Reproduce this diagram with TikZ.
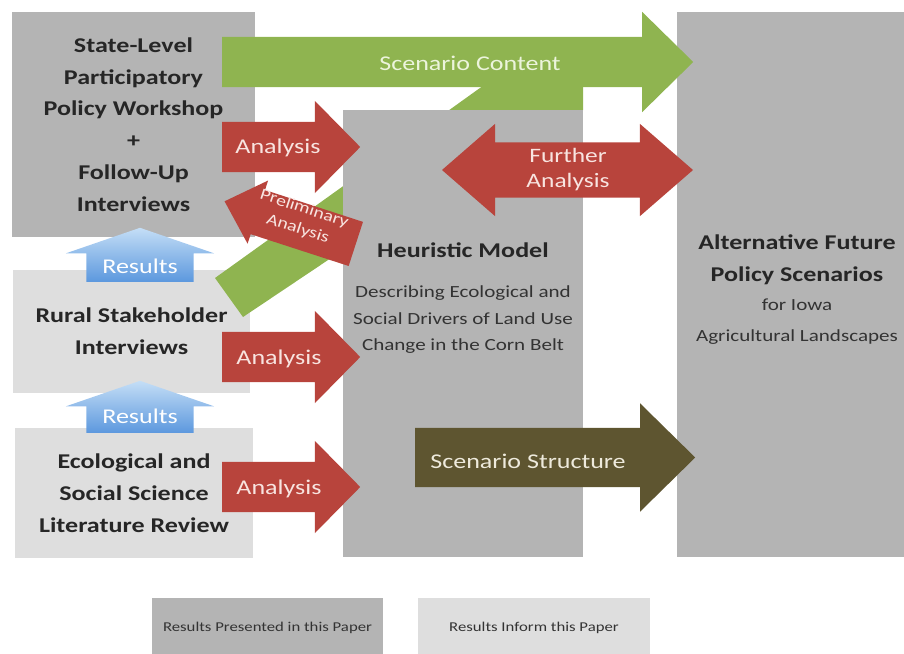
\documentclass[tikz,border=0pt]{standalone}
\usepackage{fontspec}
\setmainfont{Carlito}[FakeStretch=1.24]
\usetikzlibrary{shapes.arrows}

\definecolor{boxdark}{RGB}{180,180,180}
\definecolor{boxlight}{RGB}{222,222,222}
\definecolor{arrred}{RGB}{184,68,60}
\definecolor{arrgreen}{RGB}{143,180,80}
\definecolor{arrolive}{RGB}{94,85,48}
\definecolor{arrbluetop}{RGB}{196,222,246}
\definecolor{arrbluebot}{RGB}{92,152,222}
\definecolor{txtred}{RGB}{248,228,224}
\definecolor{txtgreen}{RGB}{236,244,220}
\definecolor{txtolive}{RGB}{238,234,220}

\begin{document}
\begin{tikzpicture}[
        x = 1pt, y = -1pt,
        darkbox/.style = {fill = boxdark, inner sep = 0pt, align = center},
        lightbox/.style = {fill = boxlight, inner sep = 0pt, align = center},
        boxtitle/.style = {font = \fontsize{21}{31.8}\selectfont\bfseries, text = black!85, align = center},
        boxsub/.style = {font = \fontsize{17}{26.5}\selectfont, text = black!80, align = center},
        legend/.style = {font = \fontsize{13.5}{16}\selectfont, text = black!80},
        blockarr/.style = {single arrow, inner sep = 0pt, minimum width = 0pt, text depth = 0pt, anchor = tail},
        redarr/.style = {blockarr, fill = arrred, text height = 50pt, minimum height = 138pt,
                         single arrow head extend = 21pt, single arrow tip angle = 91},
        bluearr/.style = {blockarr, top color = arrbluetop, bottom color = arrbluebot,
                          text height = 107pt, rotate = 90,
                          single arrow head extend = 20.5pt, single arrow tip angle = 142},
        arrtext/.style = {font = \fontsize{21}{25}\selectfont, align = center},
    ]
    \useasboundingbox (0, 0) rectangle (904, 653);

    % boxes
    \node (work) at (133.5, 124.5) [darkbox, minimum width = 243pt, minimum height = 225pt, boxtitle]
        {State-Level\\Participatory\\Policy Workshop\\+\\Follow-Up\\Interviews};
    \node (rural) at (131.5, 331.5) [lightbox, minimum width = 237pt, minimum height = 123pt, boxtitle]
        {Rural Stakeholder\\Interviews};
    \node (lit) at (134, 493) [lightbox, minimum width = 238pt, minimum height = 130pt, boxtitle]
        {Ecological and\\Social Science\\Literature Review};
    \node (alt) at (790.5, 284.5) [darkbox, minimum width = 227pt, minimum height = 545pt] {};

    % green arrow coming up from the interviews, mostly hidden
    \fill[arrgreen] (215, 278) -- (243, 317) -- (343, 250) -- (583, 110) -- (583, 60) -- (519, 60) -- cycle;

    \node (heur) at (463, 333.5) [darkbox, minimum width = 240pt, minimum height = 447pt] {};

    \node (heurtitle) at (463, 250) [boxtitle] {Heuristic Model};
    \node (heursub) at (463, 320) [boxsub]
        {Describing Ecological and\\Social Drivers of Land Use\\Change in the Corn Belt};
    \node (alttitle) at (797, 259.5) [boxtitle] {Alternative Future\\Policy Scenarios};
    \node (altsub) at (797, 322) [boxsub, font = \fontsize{17}{31}\selectfont] {for Iowa\\Agricultural Landscapes};

    % arrows
    \node (content) at (222, 62) [blockarr, fill = arrgreen, text height = 50pt, minimum height = 471pt,
        single arrow head extend = 25pt, single arrow tip angle = 89] {};
    \node at (470, 63) [arrtext, text = txtgreen] {Scenario Content};

    \node (an1) at (222, 147) [redarr] {};
    \node (an2) at (222, 357) [redarr] {};
    \node (an3) at (222, 487) [redarr] {};
    \node at (278, 148) [arrtext, text = txtred] {Analysis};
    \node at (279, 359) [arrtext, text = txtred] {Analysis};
    \node at (279, 489) [arrtext, text = txtred] {Analysis};

    \node (prelim) at (356, 244) [blockarr, fill = arrred, text height = 46pt, minimum height = 138pt,
        rotate = 162, single arrow head extend = 10pt, single arrow tip angle = 87] {};
    \node at (301, 219) [arrtext, text = txtred, rotate = -18, font = \fontsize{16}{21}\selectfont]
        {Preliminary\\Analysis};

    \node (further) at (567.5, 170) [double arrow, fill = arrred, inner sep = 0pt, minimum width = 0pt,
        text height = 55pt, text depth = 0pt, minimum height = 251pt,
        double arrow head extend = 18.5pt, double arrow tip angle = 82] {};
    \node at (568, 170) [arrtext, text = txtred, font = \fontsize{20.5}{25}\selectfont] {Further\\Analysis};

    \node (struct) at (415, 457.5) [blockarr, fill = arrolive, text height = 59pt, minimum height = 280pt,
        single arrow head extend = 24.5pt, single arrow tip angle = 89] {};
    \node at (528, 461) [arrtext, text = txtolive] {Scenario Structure};

    \node (res1) at (140, 282) [bluearr, minimum height = 54pt] {};
    \node (res2) at (140, 433) [bluearr, minimum height = 52pt] {};
    \node at (140, 266) [arrtext, text = white] {Results};
    \node at (140, 416) [arrtext, text = white] {Results};

    % legend
    \node (keydark) at (267.5, 628) [darkbox, minimum width = 231pt, minimum height = 60pt, legend]
        {Results Presented in this Paper};
    \node (keylight) at (534, 628) [lightbox, minimum width = 232pt, minimum height = 60pt, legend]
        {Results Inform this Paper};
\end{tikzpicture}
\end{document}
